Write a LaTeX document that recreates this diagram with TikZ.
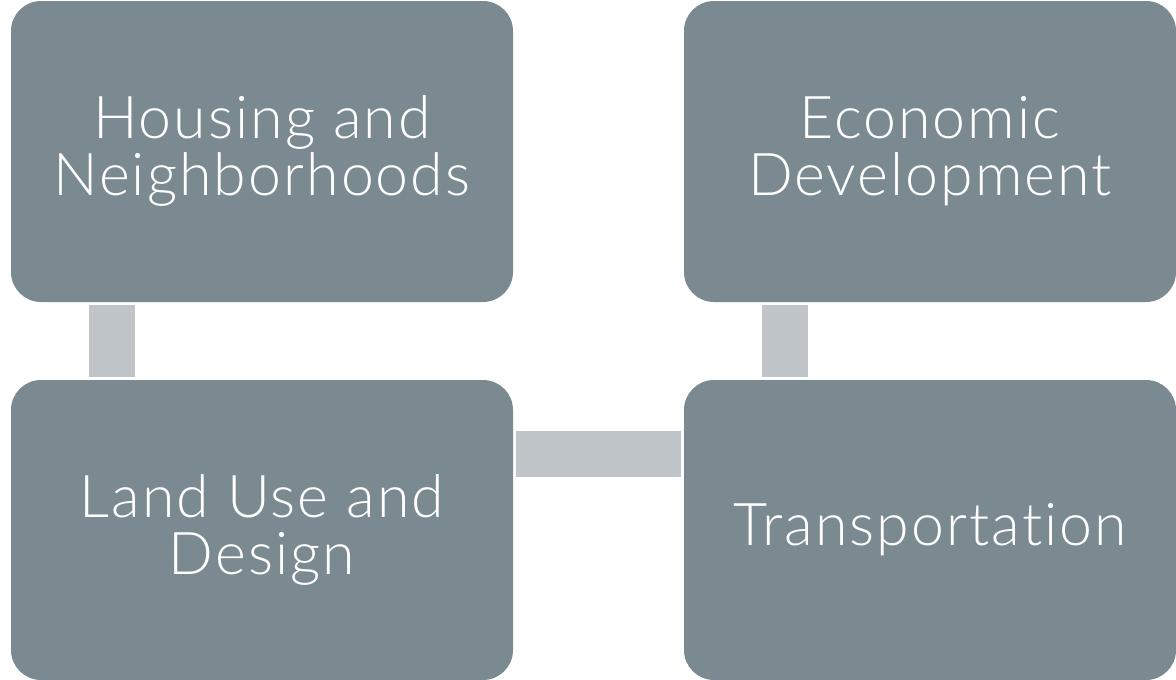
\documentclass[tikz,border=0pt]{standalone}
\usepackage{fontspec}
\setmainfont{Lato}[UprightFont=* Light, Ligatures=NoCommon, LetterSpace=3.5]
\definecolor{boxgray}{HTML}{7B8990}
\definecolor{bargray}{HTML}{BFC5C8}
\begin{document}
\begin{tikzpicture}[x=1pt,y=-1pt,
  card/.style={fill=boxgray, draw=none, rounded corners=30pt, inner sep=0pt,
    text=white, align=center, font=\fontsize{59}{57}\selectfont},
  bar/.style={draw=bargray, line width=46pt, shorten <=3pt, shorten >=3pt}]
\useasboundingbox (0,0) rectangle (1176,680);
\node[card, minimum width=502pt, minimum height=301pt] (tl) at (262,151.5) {Housing and\\Neighborhoods};
\node[card, minimum width=492pt, minimum height=301pt] (tr) at (930,151.5) {Economic\\Development};
\node[card, minimum width=502pt, minimum height=300pt] (bl) at (262,530) {Land Use and\\Design};
\node[card, minimum width=492pt, minimum height=300pt] (br) at (930,530) {Transportation};
\draw[bar] ([xshift=101pt]tl.south west) -- ([xshift=101pt]bl.north west);
\draw[bar] ([xshift=101pt]tr.south west) -- ([xshift=101pt]br.north west);
\draw[bar] ([yshift=-74pt]bl.north east) -- ([yshift=-74pt]br.north west);
\end{tikzpicture}
\end{document}
